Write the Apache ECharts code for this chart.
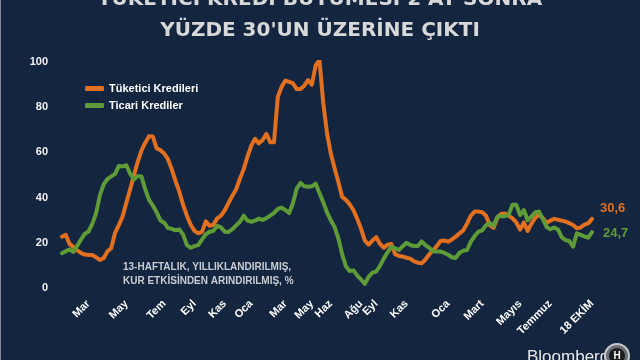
<!DOCTYPE html>
<html><head><meta charset="utf-8">
<script src="https://cdn.jsdelivr.net/npm/echarts@6/dist/echarts.min.js"></script>
<style>html,body{margin:0;padding:0;background:#14253f}#c{width:640px;height:360px}</style>
</head><body><div id="c"></div>
<script>
const titleLines = ["TÜKETİCİ KREDİ BÜYÜMESİ 2 AY SONRA", "YÜZDE 30'UN ÜZERİNE ÇIKTI"];
const seriesNames = ["Tüketici Kredileri", "Ticari Krediler"];
const note = ["13-HAFTALIK, YILLIKLANDIRILMIŞ,", "KUR ETKİSİNDEN ARINDIRILMIŞ, %"];
const tuketici = [22.7,23.5,19.5,18.2,16.7,15.5,14.8,14.6,14.6,13.6,12.4,13.2,16.2,17.6,24.3,27.8,31.6,37.7,43.7,49.9,
55.8,60.9,64.3,67.2,67,61.8,61,59.5,57,52.5,47.3,42.5,36.8,32,28,25.3,24.2,24.8,29.5,27.5,
28,30.8,32,34.4,37.7,40.8,43.7,48.4,52.6,58.2,63,66,64,65.5,68.2,64.5,64.5,84.5,89,91.8,
91.2,90.6,88,88,89.5,92,90,98.5,100.9,82,68.5,59.5,53,47,40.3,39,37,34.4,30.5,26.2,
21,19.2,21,22.5,19.5,17.8,19.2,19.5,15,14.2,13.9,13.4,13,11.8,11.2,10.9,12.6,14.9,16.6,18.5,
20.8,21,20.5,21.5,22.7,24.2,25.5,28.5,32,33.8,33.8,33.5,32,27.8,26.6,31,32.8,33,32,30.8,
29,25.8,29,25.2,28.5,31,32.5,31,28.8,29.8,30.6,30.2,29.8,29.4,28.7,27.9,26.4,26.8,28,28.6,30.6];
const ticari = [15.4,16.3,17,16,18.6,21.4,23.9,25,28.4,33,41,45.8,48.2,49.4,50.4,54,53.8,54.3,50.6,48,
49.6,49.3,43.6,39,36.5,33.5,29.9,28.9,26.5,26.2,25.5,25.9,23.6,19,17.8,18.5,19,21.5,23.8,24.9,
25.3,27.5,26.8,24.9,24.8,26,27.7,29.3,32,29.8,29.3,29.8,30.7,30.1,30.9,32,33.2,35,35.5,34.5,
33.2,37.5,44,46.5,45,44.8,45,46.2,42,38,33.5,30,27,22,15,9.5,7.5,7.8,5.5,3.8,
1.8,5,6.8,7.3,9.8,13,15.8,18.3,17.6,16.8,18.5,20,19,18.6,18.6,20.6,19,17.8,16.3,16.2,
16.1,15.5,14.7,13.6,13.3,15.6,16.5,16.8,20.5,23,24.9,25.5,27.8,28.8,27.5,31.5,31.8,31.8,32.5,36.8,
36.8,32.3,34.5,30,31.5,33.5,33.8,30.5,27,26,26.8,25.9,22.5,21.2,20.8,18.3,24.2,23.5,22.8,22.3,24.7];
const tickIdx = [7,17,27,35,43,50,59,66,71,79,83,91,102,111,121,129,140];
const tickText = ["Mar","May","Tem","Eyl","Kas","Oca","Mar","May","Haz","Ağu","Eyl","Kas","Oca","Mart","Mayıs","Temmuz","18 EKİM"];
const endLabels = ["30,6", "24,7"];
const yTicks = [0,20,40,60,80,100];

const categories = tuketici.map((_, i) => String(i));
const labelMap = {};
tickIdx.forEach((k, j) => { labelMap[k] = tickText[j]; });

const FONT = "'Liberation Sans', Arial, sans-serif";
const TFONT = "'DejaVu Sans', Verdana, sans-serif";
const ORANGE = '#e2701f', GREEN = '#5f9c38';
const chart = echarts.init(document.getElementById('c'), null, {renderer:'canvas'});
chart.setOption({
  backgroundColor: '#14253f',
  animation: false,
  textStyle: {fontFamily: FONT},
  grid: {left: 62, right: 48, top: 62, bottom: 72, containLabel: false},
  legend: {
    orient: 'vertical', left: 80, top: 78, itemGap: 6,
    icon: 'roundRect', itemWidth: 19, itemHeight: 5,
    textStyle: {color: '#ffffff', fontWeight: 'bold', fontSize: 11, fontFamily: FONT},
    data: seriesNames
  },
  xAxis: {
    type: 'category', data: categories, boundaryGap: false,
    axisLine: {show: false}, axisTick: {show: false}, splitLine: {show: false},
    axisLabel: {
      interval: (i) => labelMap[i] !== undefined,
      formatter: (v, i) => labelMap[i] || '',
      rotate: 45, color: '#ffffff', fontWeight: 'bold', fontSize: 11, margin: 14, fontFamily: FONT
    }
  },
  yAxis: {
    type: 'value', min: yTicks[0], max: yTicks[yTicks.length-1], interval: 20,
    axisLine: {show: false}, axisTick: {show: false}, splitLine: {show: false},
    axisLabel: {color: '#f0f0f0', fontWeight: 'bold', fontSize: 11, margin: 14, fontFamily: FONT}
  },
  series: [
    {name: seriesNames[0], type: 'line', data: tuketici, showSymbol: false, symbol: 'none',
     lineStyle: {color: ORANGE, width: 4, cap: 'round', join: 'round'}, itemStyle: {color: ORANGE},
     endLabel: {show: true, formatter: endLabels[0], color: ORANGE, fontWeight: 'bold', fontSize: 13, offset: [0, -10], fontFamily: FONT}},
    {name: seriesNames[1], type: 'line', data: ticari, showSymbol: false, symbol: 'none',
     lineStyle: {color: GREEN, width: 4, cap: 'round', join: 'round'}, itemStyle: {color: GREEN},
     endLabel: {show: true, formatter: endLabels[1], color: GREEN, fontWeight: 'bold', fontSize: 13, offset: [3, 1], fontFamily: FONT}}
  ],
  graphic: [
    {type: 'text', left: 'center', top: -10, style: {text: titleLines[0], fill: '#d8d8d8', font: 'bold 20px ' + TFONT}},
    {type: 'text', left: 'center', top: 21, style: {text: titleLines[1], fill: '#d8d8d8', font: 'bold 20px ' + TFONT}},
    {type: 'text', left: 123, top: 260, style: {text: note[0] + '\n' + note[1], fill: '#c9ccd4', font: 'bold 10px ' + FONT, lineHeight: 14}},
    {type: 'text', left: 527, top: 349, style: {text: 'Bloomberg', fill: '#e8e8e8', font: '17px ' + FONT}},
    {type: 'circle', shape: {cx: 617, cy: 356, r: 12}, style: {fill: '#6b6f78', stroke: '#c8c8c8', lineWidth: 2}},
    {type: 'circle', shape: {cx: 617, cy: 356, r: 8}, style: {fill: '#1d1d1d'}},
    {type: 'text', x: 617, y: 356, style: {text: 'H', fill: '#ffffff', font: 'bold 10px ' + FONT, align: 'center', verticalAlign: 'middle'}},
    {type: 'rect', shape: {x: 0, y: 0, width: 1, height: 360}, style: {fill: '#7d8aa0'}}
  ]
});
</script></body></html>
